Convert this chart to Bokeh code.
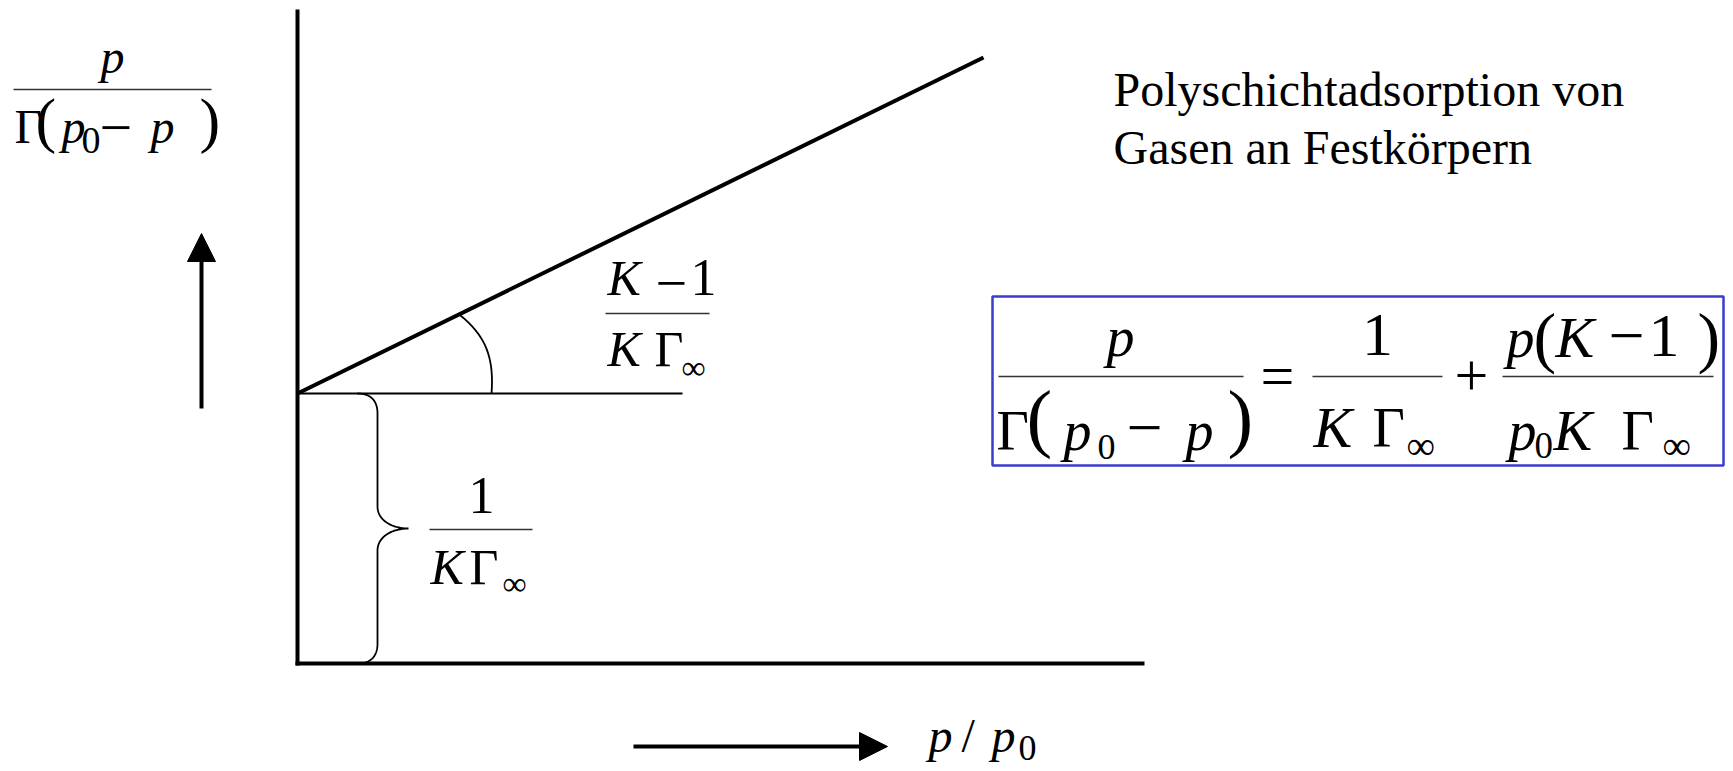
import numpy as np
from bokeh.plotting import figure
from bokeh.models import Range1d, Arrow, NormalHead, ColumnDataSource
from bokeh.core.properties import value
from bokeh.embed import file_html
from bokeh.resources import INLINE

# ---------------- content (texts) ----------------
title_lines = ["Polyschichtadsorption von", "Gasen an Festkörpern"]
y_label_num = ["p"]
y_label_den = ["Γ", "(", "p", "0", "p", ")"]
x_label = ["p", "/", "p", "0"]
slope_num = ["K", "1"]
slope_den = ["K", "Γ", "∞"]
icpt_num = ["1"]
icpt_den = ["K", "Γ", "∞"]
eq_lhs_num = ["p"]
eq_lhs_den = ["Γ", "(", "p", "0", "p", ")"]
eq_mid_num = ["1"]
eq_mid_den = ["K", "Γ", "∞"]
eq_rhs_num = ["p", "(", "K", "1", ")"]
eq_rhs_den = ["p", "0", "K", "Γ", "∞"]
MINUS, EQ, PLUS = "−", "=", "+"

# ---------------- schematic geometry (page pixels) ----------------
axis_x = 297            # ordinate axis position
axis_y = 663            # abscissa axis position
axis_top = 9
axis_right = 1144
intercept_y = 393       # 1/(K Γ∞)
line_end = (983, 57)    # end of straight BET line
ref_line_end = 682      # horizontal reference line

W, H = 1733, 771
p = figure(width=W, height=H, output_backend="svg", toolbar_location=None,
           x_range=Range1d(0, W), y_range=Range1d(H, 0),
           x_axis_location=None, y_axis_location=None, min_border=0)
p.grid.visible = False
p.outline_line_color = None
p.background_fill_color = "white"
p.border_fill_color = "white"

INK = "black"
SERIF = "Liberation Serif"
SHIFT = 1 / 3   # baseline correction (fraction of font size)

# axes
p.line([axis_x, axis_x], [axis_top, axis_y + 2], line_color=INK, line_width=4)
p.line([axis_x - 2, axis_right], [axis_y, axis_y], line_color=INK, line_width=4)
# BET straight line
p.line([axis_x, line_end[0]], [intercept_y, line_end[1]], line_color=INK, line_width=4)
# thin horizontal reference
p.line([axis_x, ref_line_end], [intercept_y, intercept_y], line_color=INK, line_width=2)


def bez(p0, c0, c1, p1, n=40):
    t = np.linspace(0, 1, n)[:, None]
    P = ((1 - t) ** 3) * np.array(p0) + 3 * ((1 - t) ** 2) * t * np.array(c0) \
        + 3 * (1 - t) * t ** 2 * np.array(c1) + t ** 3 * np.array(p1)
    return P


# angle arc
arc = bez((460, 315), (483, 334), (494, 354), (491, 393))
p.line(arc[:, 0], arc[:, 1], line_color=INK, line_width=1.8)

# brace
bx, tip = 377, 408
mid = (intercept_y + axis_y) / 2
segs = [
    bez((357, intercept_y), (370, intercept_y), (bx, intercept_y + 7), (bx, intercept_y + 20)),
    np.array([[bx, intercept_y + 20], [bx, mid - 22]]),
    bez((bx, mid - 22), (bx, mid - 8), (392, mid), (tip, mid)),
    bez((tip, mid), (392, mid), (bx, mid + 8), (bx, mid + 22)),
    np.array([[bx, mid + 22], [bx, axis_y - 20]]),
    bez((bx, axis_y - 20), (bx, axis_y - 7), (370, axis_y), (357, axis_y)),
]
br = np.vstack(segs)
p.line(br[:, 0], br[:, 1], line_color=INK, line_width=1.8)

# direction arrows
p.add_layout(Arrow(end=NormalHead(size=28, fill_color=INK, line_color=INK, line_width=1),
                   x_start=201, y_start=408, x_end=201, y_end=233,
                   line_color=INK, line_width=4))
p.add_layout(Arrow(end=NormalHead(size=28, fill_color=INK, line_color=INK, line_width=1),
                   x_start=633, y_start=746, x_end=887, y_end=746,
                   line_color=INK, line_width=4))

# formula box
p.quad(left=[992], right=[1723], top=[296], bottom=[465], fill_color=None,
       line_color="#3c3ccc", line_width=2.5)

# fraction bars
bars = [(13, 211, 89), (998, 1243, 376), (1312, 1442, 376), (1502, 1713, 376),
        (605, 709, 313), (429, 532, 529)]
p.segment(x0=[b[0] for b in bars], x1=[b[1] for b in bars],
          y0=[b[2] for b in bars], y1=[b[2] for b in bars],
          line_color="#333333", line_width=1.6)

# ---------------- text tokens ----------------
groups = {}


def put(texts, xs, ys, sizes, italics, align="left", centered=False):
    """ys are baselines, or vertical centres for operator glyphs (centered=True)."""
    for t, x, y, s, it in zip(texts, xs, ys, sizes, italics):
        key = (s, "italic" if it else "normal", align)
        g = groups.setdefault(key, dict(x=[], y=[], text=[]))
        g["x"].append(x)
        g["y"].append(y if centered else y - SHIFT * s)
        g["text"].append(t)


# y label
put(y_label_num, [112], [72], [48], [True], "center")
put(y_label_den, [14, 35, 61, 81, 150, 199], [142, 140, 142, 153, 142, 140],
    [48, 62, 48, 38, 48, 62], [False, False, True, False, True, False])
put([MINUS], [99], [127], [58], [False], centered=True)
# x label
put(x_label, [928, 961, 991, 1018], [751, 751, 751, 759], [48, 48, 48, 36],
    [True, False, True, False])
# slope label
put(slope_num, [607, 690], [294, 294], [50, 52], [True, False])
put([MINUS], [655], [282], [56], [False], centered=True)
put(slope_den, [607, 654, 681], [365, 365, 378], [50, 50, 34], [True, False, False])
# intercept label
put(icpt_num, [481], [512], [52], [False], "center")
put(icpt_den, [430, 469, 502], [583, 583, 594], [50, 50, 34], [True, False, False])
# boxed equation
put(eq_lhs_num, [1120], [355], [56], [True], "center")
put(eq_lhs_den, [996, 1026, 1063, 1097, 1185, 1227], [449, 442, 449, 458, 449, 442],
    [56, 77, 56, 36, 56, 77], [False, False, True, False, True, False])
put([MINUS], [1126], [427], [64], [False], centered=True)
put([EQ], [1260], [375], [60], [False], centered=True)
put(eq_mid_num, [1377], [355], [62], [False], "center")
put(eq_mid_den, [1313, 1372, 1406], [446, 446, 458], [58, 56, 40], [True, False, False])
put([PLUS], [1454], [375], [60], [False], centered=True)
put(eq_rhs_num, [1506, 1533, 1555, 1648, 1697], [356, 359, 356, 356, 359],
    [56, 68, 58, 62, 68], [True, False, True, False, False])
put([MINUS], [1608], [335], [64], [False], centered=True)
put(eq_rhs_den, [1508, 1534, 1553, 1621, 1662], [449, 457, 449, 449, 458],
    [56, 37, 58, 56, 40], [True, False, True, False, False])
# title
put(title_lines, [1113, 1113], [105, 163], [48, 48], [False, False])

for (size, style, align), g in groups.items():
    p.text(x="x", y="y", text="text", source=ColumnDataSource(g),
           text_font=value(SERIF), text_font_size=value(f"{size}px"),
           text_font_style=style, text_align=align,
           text_baseline="alphabetic", text_color=INK)

open("out.html", "w").write(file_html(p, INLINE))
